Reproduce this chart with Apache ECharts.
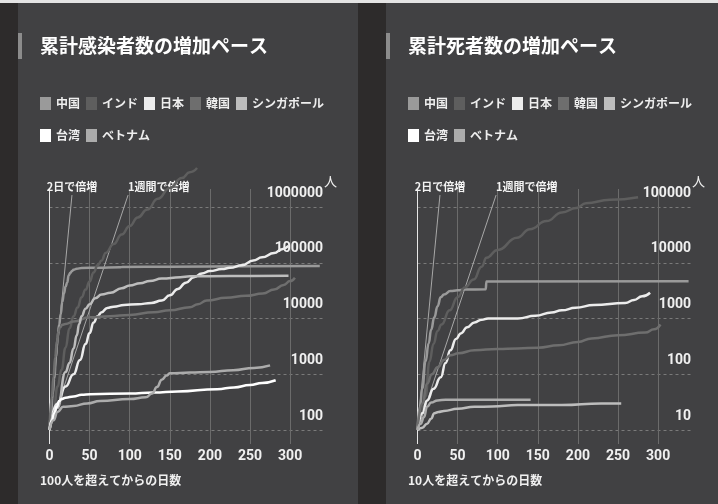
<!DOCTYPE html>
<html lang="ja">
<head>
  <meta charset="UTF-8">
  <title>累計感染者数・死者数の増加ペース</title>
  <script src="https://cdn.jsdelivr.net/npm/echarts@6/dist/echarts.min.js"></script>
  <style>
    * {
      margin: 0;
      padding: 0
    }

    html, body {
      width: 100%;
      height: 100%;
      background: #2d2b2b;
    }

    .panel {
      position: absolute;
      top: 0;
      height: 504px;
      background: #414143;
    }

    .bar {
      position: absolute;
      top: 33px;
      width: 4px;
      height: 26px;
      background: #8c8c8c;
    }

    #main {
      position: absolute;
      left: 0;
      top: 0;
      width: 718px;
      height: 504px;
    }
  </style>
</head>
<body>
  <div class="panel" style="left:18px;width:340px;"></div>
  <div class="panel" style="left:386px;width:332px;"></div>
  <div class="bar" style="left:18px;"></div>
  <div class="bar" style="left:386px;"></div>
  <div style="position:absolute;left:0;top:0;width:718px;height:3px;background:#e4e4e4;"></div>
  <div id="main"></div>
</body>
<script type="text/javascript">
  var countries = ['中国', 'インド', '日本', '韓国', 'シンガポール', '台湾', 'ベトナム'];
  var colors = ['#9a9a9a', '#5e5e5e', '#ececec', '#6e6e6e', '#bdbdbd', '#ffffff', '#acacac'];

  /*---------- 累計感染者数 [100人を超えてからの日数, 人] ----------*/
  var chinaCases = [[0, 100], [2, 200], [4, 440], [6, 830], [8, 2000], [10, 4500], [12, 7700], [14, 12000],
    [16, 20000], [18, 28000], [20, 37000], [22, 44000], [24, 60000], [26, 66000], [28, 71000], [30, 75000],
    [34, 78000], [40, 80500], [60, 81500], [88, 82700], [90, 84000], [150, 85000], [250, 86500], [337, 87500]];
  var indiaCases = [[0, 100], [5, 200], [10, 600], [15, 1200], [20, 3000], [25, 6700], [30, 11000], [35, 15700],
    [40, 24000], [45, 33000], [50, 46000], [55, 67000], [60, 90000], [65, 110000], [70, 150000], [80, 216000],
    [90, 320000], [100, 456000], [110, 650000], [122, 900000], [135, 1400000], [150, 2200000], [165, 3300000],
    [175, 4200000], [184, 5000000]];
  var japanCases = [[0, 100], [10, 300], [20, 600], [30, 1000], [38, 1800], [45, 3500], [50, 5500], [55, 8500],
    [60, 11000], [65, 13000], [72, 15500], [80, 16300], [93, 17500], [110, 18000], [127, 19000], [140, 21000],
    [150, 26000], [160, 34000], [170, 44000], [180, 55000], [190, 64000], [200, 71000], [215, 77000],
    [225, 81000], [240, 90000], [254, 110000], [265, 125000], [280, 150000], [290, 175000], [298, 200000]];
  var koreaCases = [[0, 100], [3, 400], [5, 900], [7, 2000], [9, 3500], [11, 5800], [13, 6900], [16, 7700],
    [20, 8000], [30, 8800], [50, 10500], [75, 11000], [100, 11600], [130, 13000], [150, 14000], [175, 16000],
    [185, 18000], [196, 21000], [220, 23500], [245, 25500], [266, 28000], [280, 33000], [292, 40000],
    [300, 47000], [306, 54000]];
  var singaporeCases = [[0, 100], [10, 250], [20, 1100], [25, 1600], [30, 2900], [34, 5000], [37, 8000],
    [40, 11000], [45, 15000], [50, 18000], [57, 23000], [65, 27000], [76, 29000], [90, 35000], [100, 39000],
    [113, 43000], [125, 47000], [140, 52000], [163, 55000], [175, 57000], [200, 57500], [250, 58000],
    [298, 58500]];
  var taiwanCases = [[0, 100], [3, 150], [6, 200], [9, 260], [12, 330], [15, 360], [20, 380], [30, 400],
    [40, 430], [51, 440], [100, 450], [130, 470], [160, 490], [209, 540], [230, 580], [250, 640], [265, 700],
    [282, 780]];
  var vietnamCases = [[0, 100], [5, 150], [10, 210], [17, 260], [30, 270], [47, 300], [63, 330], [100, 360],
    [120, 385], [128, 450], [134, 590], [140, 800], [146, 950], [150, 1040], [175, 1070], [200, 1100],
    [229, 1180], [255, 1300], [275, 1440]];

  /*---------- 累計死者数 [10人を超えてからの日数, 人] ----------*/
  var chinaDeaths = [[0, 10], [3, 26], [6, 56], [10, 170], [14, 360], [17, 630], [21, 1050], [25, 1660],
    [29, 2400], [33, 2700], [41, 3100], [50, 3200], [59, 3300], [85, 3340], [86, 4630], [338, 4640]];
  var indiaDeaths = [[0, 10], [5, 20], [10, 40], [15, 170], [20, 350], [25, 600], [30, 780], [40, 1400],
    [50, 2400], [59, 3600], [70, 5000], [80, 8500], [86, 12300], [100, 17000], [124, 28000], [140, 40000],
    [161, 56000], [180, 80000], [198, 96000], [210, 117000], [240, 135000], [275, 150000]];
  var japanDeaths = [[0, 10], [6, 20], [12, 34], [20, 55], [29, 88], [35, 160], [41, 270], [48, 430],
    [54, 540], [62, 700], [71, 850], [80, 950], [88, 1000], [125, 1000], [147, 1120], [167, 1280],
    [180, 1400], [197, 1560], [220, 1750], [259, 1900], [270, 2150], [280, 2500], [290, 2900]];
  var koreaDeaths = [[0, 10], [6, 30], [12, 68], [18, 100], [25, 133], [33, 180], [41, 220], [51, 237],
    [71, 270], [100, 285], [125, 290], [150, 300], [176, 330], [200, 380], [217, 440], [250, 500],
    [284, 560], [295, 640], [303, 780]];
  var singaporeDeaths = [[0, 10], [6, 11], [12, 13], [17, 16], [21, 20], [26, 21], [33, 22], [50, 24],
    [71, 26], [93, 26.5], [125, 28], [180, 28], [229, 30], [254, 30]];
  var taiwanDeaths = [];
  var vietnamDeaths = [[0, 10], [4, 13], [8, 17], [12, 26], [17, 31], [25, 34], [35, 35], [141, 35]];

  // 倍増ペースの補助線（始点と終点）
  var guide2dCases = [[0, 100], [28, 1638400]];
  var guide1wCases = [[0, 100], [98, 1638400]];
  var guide2dDeaths = [[0, 10], [28, 163840]];
  var guide1wDeaths = [[0, 10], [98, 163840]];

  var casesData = [chinaCases, indiaCases, japanCases, koreaCases, singaporeCases, taiwanCases, vietnamCases];
  var deathsData = [chinaDeaths, indiaDeaths, japanDeaths, koreaDeaths, singaporeDeaths, taiwanDeaths, vietnamDeaths];

  var jpFont = '"Noto Sans CJK JP", sans-serif';
  var numFont = 'Roboto, "Noto Sans CJK JP", sans-serif';

  function xAx(idx) {
    return {
      type: 'value', gridIndex: idx, min: 0, max: 341, interval: 50,
      axisLine: {show: false}, axisTick: {show: false},
      axisLabel: {color: '#f0f0f0', fontSize: 14, fontWeight: 'bold', fontFamily: numFont, margin: 6, showMaxLabel: false},
      splitLine: {
        show: true, showMaxLine: false,
        lineStyle: {width: 1, color: ['#e6e6e6', '#6b6b6b', '#6b6b6b', '#6b6b6b', '#6b6b6b', '#6b6b6b', '#6b6b6b', '#6b6b6b']}
      }
    };
  }

  function yAx(idx, min, max) {
    return {
      type: 'log', logBase: 10, gridIndex: idx, position: 'right', min: min, max: max,
      axisLine: {show: false}, axisTick: {show: false},
      axisLabel: {
        inside: true, margin: 0, verticalAlign: 'bottom', padding: [0, 0, 7, 0],
        color: '#f0f0f0', fontSize: 14, fontWeight: 'bold', fontFamily: numFont,
        showMinLabel: false, showMaxLabel: false,
        formatter: function (v) { return String(Math.round(v)); }
      },
      splitLine: {show: true, showMinLine: false, showMaxLine: false, lineStyle: {color: '#7a7a7a', width: 1, type: [3, 3]}}
    };
  }

  function lineSeries(i, data, idx) {
    return {
      name: countries[i], type: 'line', xAxisIndex: idx, yAxisIndex: idx, data: data,
      symbol: 'none', smooth: 0.5, smoothMonotone: 'x', clip: false,
      color: colors[i], itemStyle: {color: colors[i]},
      lineStyle: {width: 2.5, color: colors[i]}, z: 3
    };
  }

  function guideSeries(data, text, align, idx) {
    return {
      type: 'line', xAxisIndex: idx, yAxisIndex: idx, silent: true,
      symbol: 'circle', symbolSize: 0, showSymbol: true,
      lineStyle: {width: 1, color: '#a8a8a8'}, itemStyle: {color: '#a8a8a8'},
      data: [data[0], {
        value: data[1],
        label: {
          show: true, position: 'top', distance: 3, formatter: text, align: align,
          color: '#f2f2f2', fontSize: 11, fontWeight: 'bold', fontFamily: jpFont
        }
      }],
      z: 2
    };
  }

  function legend(names, left, top) {
    return {
      data: names, left: left, top: top, icon: 'rect', itemWidth: 11, itemHeight: 13, itemGap: 6,
      selectedMode: false,
      textStyle: {color: '#eeeeee', fontSize: 12, fontWeight: 'bold', fontFamily: jpFont}
    };
  }

  var series = [];
  for (var i = 0; i < countries.length; i++) {
    series.push(lineSeries(i, casesData[i], 0));
    series.push(lineSeries(i, deathsData[i], 1));
  }
  series.push(guideSeries(guide2dCases, '2日で倍増', 'center', 0));
  series.push(guideSeries(guide1wCases, '1週間で倍増', 'left', 0));
  series.push(guideSeries(guide2dDeaths, '2日で倍増', 'center', 1));
  series.push(guideSeries(guide1wDeaths, '1週間で倍増', 'left', 1));

  var titleStyle = {color: '#ffffff', fontSize: 19, fontWeight: 'bold', fontFamily: jpFont};
  var nameStyle = {color: '#f0f0f0', fontSize: 12, fontWeight: 'bold', fontFamily: jpFont};
  var unitStyle = {color: '#f0f0f0', fontSize: 13, fontWeight: 'normal', fontFamily: jpFont};

  var myChart = echarts.init(document.getElementById('main'));
  myChart.setOption({
    animation: false,
    backgroundColor: 'transparent',
    title: [
      {text: '累計感染者数の増加ペース', left: 35, top: 31, textStyle: titleStyle},
      {text: '累計死者数の増加ペース', left: 403, top: 31, textStyle: titleStyle},
      {text: '100人を超えてからの日数', left: 35, top: 469, textStyle: nameStyle},
      {text: '10人を超えてからの日数', left: 403, top: 469, textStyle: nameStyle},
      {text: '人', left: 319, top: 170, textStyle: unitStyle},
      {text: '人', left: 687, top: 170, textStyle: unitStyle}
    ],
    legend: [
      legend(['中国', 'インド', '日本', '韓国', 'シンガポール'], 35, 92),
      legend(['台湾', 'ベトナム'], 35, 124),
      legend(['中国', 'インド', '日本', '韓国', 'シンガポール'], 403, 92),
      legend(['台湾', 'ベトナム'], 403, 124)
    ],
    grid: [
      {left: 49.5, top: 189, width: 273.5, height: 255},
      {left: 417.5, top: 189, width: 273.5, height: 255}
    ],
    xAxis: [xAx(0), xAx(1)],
    yAxis: [yAx(0, 56.1, 2104000), yAx(1, 5.61, 210400)],
    series: series
  });
</script>
</html>
